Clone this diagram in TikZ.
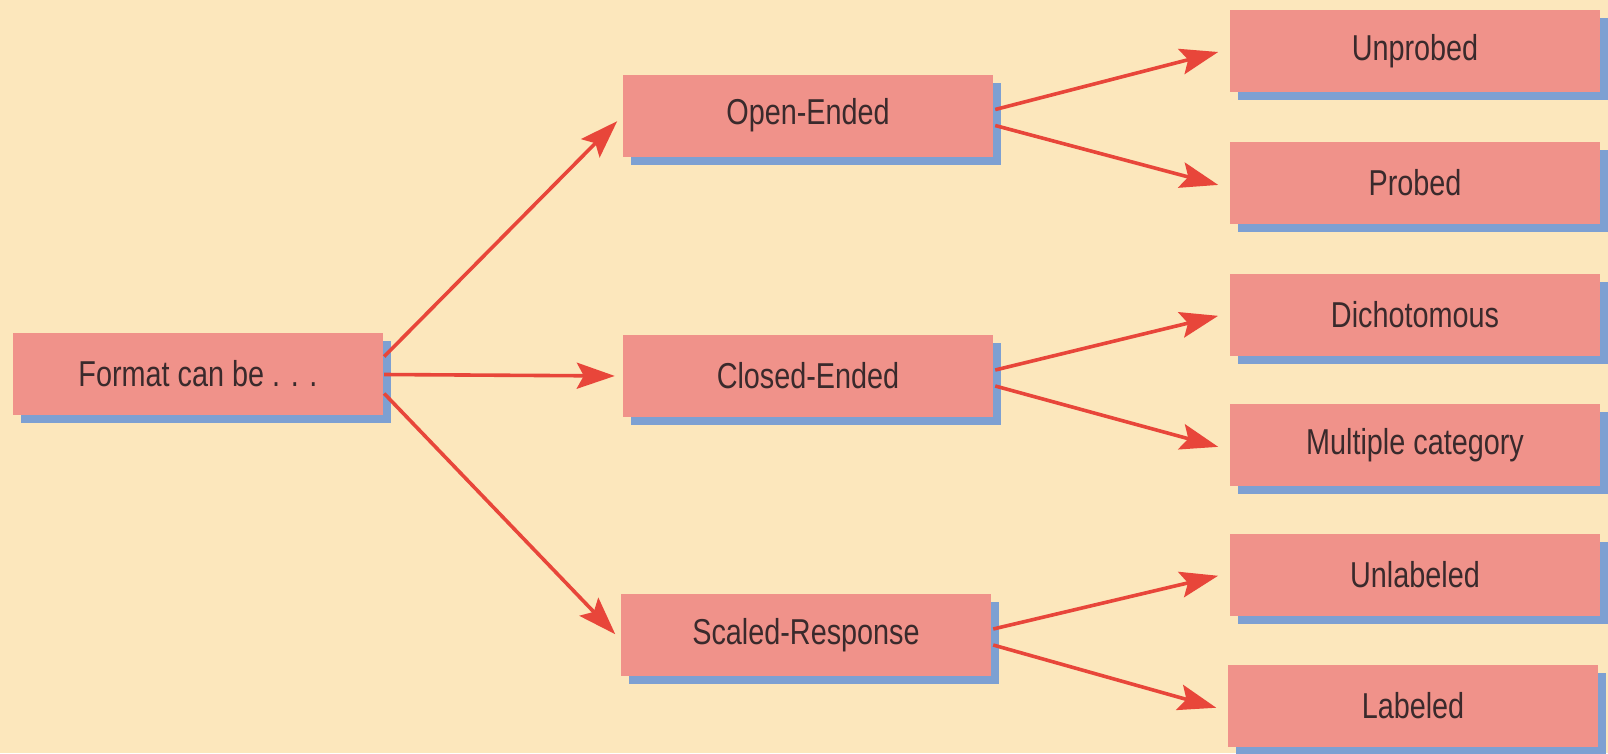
\documentclass[tikz,border=0pt]{standalone}
\usepackage{fontspec}
\setmainfont{Liberation Sans}[FakeStretch=0.8]
\usetikzlibrary{arrows.meta,shadows,calc}

\definecolor{paper}{HTML}{FCE7BC}
\definecolor{boxfill}{HTML}{F0928A}
\definecolor{boxshadow}{HTML}{7DA0D2}
\definecolor{arrowred}{HTML}{E8463A}
\definecolor{ink}{HTML}{3A2A2C}

\tikzset{
  catbox/.style={
    rectangle, inner sep=0pt,
    minimum width=370pt, minimum height=82pt,
    fill=boxfill, text=ink,
    font=\fontsize{36}{40}\selectfont,
    drop shadow={shadow xshift=8pt, shadow yshift=-8pt,
                 fill=boxshadow, opacity=1}
  },
  branch/.style={
    draw=arrowred, line width=3.6pt,
    -{Stealth[length=38pt,width=26pt,inset=7pt]}
  }
}

\begin{document}
\begin{tikzpicture}[x=1pt,y=-1pt]
  % page area and background
  \fill[paper] (0,0) rectangle (1608,753);
  \useasboundingbox (0,0) rectangle (1608,753);

  % root
  \node[catbox] (fmt) at (198,373.5) {Format can be . . .};

  % first level
  \node[catbox] (open)   at (808,115.5) {Open-Ended};
  \node[catbox] (closed) at (808,376)   {Closed-Ended};
  \node[catbox] (scaled) at (806,635)   {Scaled-Response};

  % second level
  \node[catbox] (unprobed) at (1415,51)  {Unprobed};
  \node[catbox] (probed)   at (1415,183) {Probed};
  \node[catbox] (dicho)    at (1415,315) {Dichotomous};
  \node[catbox] (multi)    at (1415,445) {Multiple category};
  \node[catbox] (unlab)    at (1415,575) {Unlabeled};
  \node[catbox] (lab)      at (1413,706) {Labeled};

  % root to first level
  \draw[branch, shorten >=8pt] ($(fmt.east)+(1,-17)$) -- (open.west);
  \draw[branch, shorten >=8pt] ($(fmt.east)+(1,1)$)   -- (closed.west);
  \draw[branch, shorten >=8pt] ($(fmt.east)+(1,20)$)  -- ($(scaled.west)+(0,5)$);

  % first level to second level
  \draw[branch, shorten >=12pt] ($(open.east)+(2,-6)$)   -- ($(unprobed.west)+(0,-2)$);
  \draw[branch, shorten >=12pt] ($(open.east)+(2,10)$)   -- ($(probed.west)+(0,5)$);
  \draw[branch, shorten >=12pt] ($(closed.east)+(2,-6)$) -- ($(dicho.west)+(0,-2)$);
  \draw[branch, shorten >=12pt] ($(closed.east)+(2,10)$) -- ($(multi.west)+(0,5)$);
  \draw[branch, shorten >=12pt] ($(scaled.east)+(2,-6)$) -- ($(unlab.west)+(0,-2)$);
  \draw[branch, shorten >=12pt] ($(scaled.east)+(2,10)$) -- ($(lab.west)+(0,5)$);
\end{tikzpicture}
\end{document}
